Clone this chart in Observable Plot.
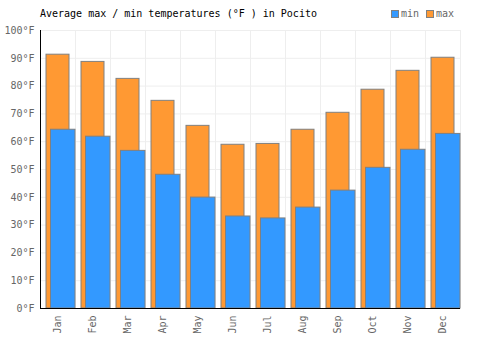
<!DOCTYPE html>
<html>
<head>
<meta charset="utf-8">
<script src="https://cdn.jsdelivr.net/npm/d3@7"></script>
<script src="https://cdn.jsdelivr.net/npm/@observablehq/plot@0.6"></script>
<style>
  html, body { margin: 0; padding: 0; background: #fff; }
  #wrap { position: relative; width: 500px; height: 350px; font-family: "DejaVu Sans Mono", monospace; }
  #title { position: absolute; left: 40px; top: 8px; font-size: 10px; color: #000; white-space: pre; }
  #legend { position: absolute; left: 391px; top: 8px; font-size: 10px; color: #666; display: flex; align-items: center; }
  .sw { display: inline-block; width: 6px; height: 6px; border: 1px solid #808080; margin-right: 2px; }
  .item { display: flex; align-items: center; margin-right: 7px; }
</style>
</head>
<body>
<div id="wrap">
  <div id="title">Average max / min temperatures (°F ) in Pocito</div>
  <div id="legend">
    <span class="item"><span class="sw" style="background:#3399ff"></span>min</span>
    <span class="item"><span class="sw" style="background:#ff9933"></span>max</span>
  </div>
  <div id="chart"></div>
</div>
<script>
const months = ["Jan","Feb","Mar","Apr","May","Jun","Jul","Aug","Sep","Oct","Nov","Dec"];
const maxTemps = [91.3, 88.7, 82.6, 74.7, 65.7, 58.9, 59.2, 64.3, 70.4, 78.7, 85.5, 90.2];
const minTemps = [64.3, 61.8, 56.7, 48.1, 39.9, 33.1, 32.4, 36.3, 42.4, 50.6, 57.1, 62.8];
const yTicks = [0,10,20,30,40,50,60,70,80,90,100];

const maxData = months.map((m, i) => ({month: m, value: maxTemps[i]}));
const minData = months.map((m, i) => ({month: m, value: minTemps[i]}));

const chart = Plot.plot({
  width: 500,
  height: 350,
  marginLeft: 40,
  marginRight: 40,
  marginTop: 30,
  marginBottom: 42,
  style: {fontFamily: "DejaVu Sans Mono, monospace", fontSize: "10px", background: "transparent"},
  x: {domain: months, padding: 0, label: null},
  y: {domain: [0, 100], label: null},
  marks: [
    Plot.ruleY(yTicks.slice(1), {stroke: "#eeeeee", strokeWidth: 1}),
    Plot.ruleX(months, {x: d => d, dx: 17.5, stroke: "#eeeeee", strokeWidth: 1}),
    Plot.barY(maxData, {x: "month", y: "value", fill: "#ff9933", stroke: "#808080", strokeWidth: 1, insetLeft: 6, insetRight: 6}),
    Plot.barY(minData, {x: "month", y: "value", fill: "#3399ff", stroke: "#808080", strokeWidth: 1, insetLeft: 10.5, insetRight: 0}),
    Plot.axisY({ticks: yTicks, tickFormat: d => d + "°F", tickSize: 0, tickPadding: 6, fill: "#666", fontSize: 10, label: null}),
    Plot.axisX({tickRotate: -90, tickSize: 0, tickPadding: 7, fill: "#666", fontSize: 10, label: null}),
    Plot.ruleX([0], {x: () => months[0], dx: -17.5, y1: 0, y2: 100, stroke: "#000", strokeWidth: 1}),
    Plot.ruleY([0], {stroke: "#000", strokeWidth: 1})
  ]
});
document.getElementById("chart").appendChild(chart);
</script>
</body>
</html>
